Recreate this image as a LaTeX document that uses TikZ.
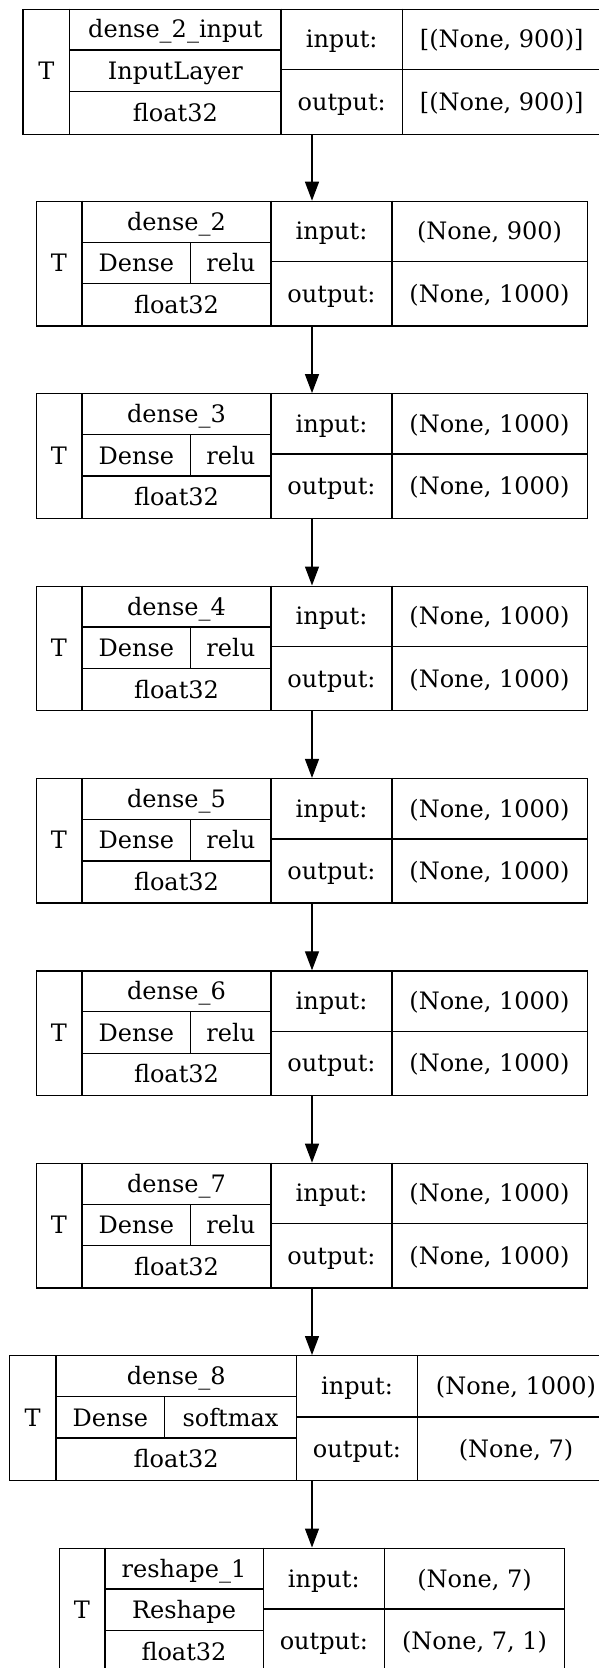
\documentclass[tikz,border=0pt]{standalone}
\usepackage{fontspec}
\setmainfont{DejaVu Serif}
\usetikzlibrary{arrows.meta}

\begin{document}
\begin{tikzpicture}[x=1pt,y=-1pt,
  box/.style={draw, line width=1.3pt, inner sep=0, minimum height=124.5pt, anchor=north},
  cell/.style={inner sep=0, text height=17.5pt, text depth=0pt, font=\fontsize{24}{28}\selectfont},
  sep/.style={line width=1.3pt},
  link/.style={-{Triangle[length=19pt,width=14pt]}, line width=1.3pt}]
\useasboundingbox (0,0) rectangle (598,1668);

% input layer
\node[box, minimum width=578pt, minimum height=125pt] (d2in) at (312,8.5) {};
\draw[sep] (69.8,8.5) -- (69.8,133.5);
\draw[sep] (281,8.5) -- (281,133.5);
\draw[sep] (402.4,8.5) -- (402.4,133.5);
\draw[sep] (69.8,50) -- (281,50);
\draw[sep] (69.8,91.5) -- (281,91.5);
\draw[sep] (281,69.5) -- (601,69.5);
\node[cell] (d2in-t) at (46.4,71) {T};
\node[cell] (d2in-name) at (175.4,29.2) {dense\_2\_input};
\node[cell] (d2in-type) at (175.4,70.8) {InputLayer};
\node[cell] (d2in-dt) at (175.4,112.5) {float32};
\node[cell] (d2in-i) at (341.7,39) {input:};
\node[cell] (d2in-o) at (341.7,101.5) {output:};
\node[cell] (d2in-is) at (501.7,39) {[(None, 900)]};
\node[cell] (d2in-os) at (501.7,101.5) {[(None, 900)]};

% dense layers
\foreach \i/\inshape in {2/900,3/1000,4/1000,5/1000,6/1000,7/1000} {
  \pgfmathsetmacro\t{200.7+192.4*(\i-2)}
  \node[box, minimum width=551pt] (d\i) at (312,\t) {};
  \draw[sep] (82,\t) -- (82,\t+124.5);
  \draw[sep] (271,\t) -- (271,\t+124.5);
  \draw[sep] (392,\t) -- (392,\t+124.5);
  \draw[sep] (82,\t+41.5) -- (271,\t+41.5);
  \draw[sep] (82,\t+83) -- (271,\t+83);
  \draw[sep] (190.7,\t+41.5) -- (190.7,\t+83);
  \draw[sep] (271,\t+61) -- (587,\t+61);
  \node[cell] (d\i-t) at (59,\t+62.25) {T};
  \node[cell] (d\i-name) at (176.5,\t+20.75) {dense\_\i};
  \node[cell] (d\i-type) at (136.4,\t+62.25) {Dense};
  \node[cell] (d\i-act) at (230.9,\t+62.25) {relu};
  \node[cell] (d\i-dt) at (176.5,\t+103.75) {float32};
  \node[cell] (d\i-i) at (331.5,\t+30.5) {input:};
  \node[cell] (d\i-o) at (331.5,\t+92.75) {output:};
  \node[cell] (d\i-is) at (489.5,\t+30.5) {(None, \inshape)};
  \node[cell] (d\i-os) at (489.5,\t+92.75) {(None, 1000)};
}

% dense_8
\node[box, minimum width=605pt] (d8) at (312,1355) {};
\draw[sep] (56,1355) -- (56,1479.5);
\draw[sep] (296.3,1355) -- (296.3,1479.5);
\draw[sep] (417.6,1355) -- (417.6,1479.5);
\draw[sep] (56,1396.5) -- (296.3,1396.5);
\draw[sep] (56,1438) -- (296.3,1438);
\draw[sep] (164.8,1396.5) -- (164.8,1438);
\draw[sep] (296.3,1417) -- (614.5,1417);
\node[cell] (d8-t) at (32.75,1417.25) {T};
\node[cell] (d8-name) at (176.2,1375.75) {dense\_8};
\node[cell] (d8-type) at (110.4,1417.25) {Dense};
\node[cell] (d8-act) at (230.5,1417.25) {softmax};
\node[cell] (d8-dt) at (176.2,1458.75) {float32};
\node[cell] (d8-i) at (357,1386) {input:};
\node[cell] (d8-o) at (357,1448.25) {output:};
\node[cell] (d8-is) at (516,1386) {(None, 1000)};
\node[cell] (d8-os) at (516,1448.25) {(None, 7)};

% reshape_1
\node[box, minimum width=505.5pt] (rs1) at (312,1547.5) {};
\draw[sep] (104.9,1547.5) -- (104.9,1672);
\draw[sep] (263.2,1547.5) -- (263.2,1672);
\draw[sep] (384.4,1547.5) -- (384.4,1672);
\draw[sep] (104.9,1589) -- (263.2,1589);
\draw[sep] (104.9,1630.5) -- (263.2,1630.5);
\draw[sep] (263.2,1609) -- (564.5,1609);
\node[cell] (rs1-t) at (82,1609.75) {T};
\node[cell] (rs1-name) at (184,1568.25) {reshape\_1};
\node[cell] (rs1-type) at (184,1609.75) {Reshape};
\node[cell] (rs1-dt) at (184,1651.25) {float32};
\node[cell] (rs1-i) at (323.8,1578.25) {input:};
\node[cell] (rs1-o) at (323.8,1640.5) {output:};
\node[cell] (rs1-is) at (474.5,1578.25) {(None, 7)};
\node[cell] (rs1-os) at (474.5,1640.5) {(None, 7, 1)};

% links
\draw[link] (d2in.south) -- (d2.north);
\foreach \i [evaluate=\i as \j using int(\i+1)] in {2,...,7}
  \draw[link] (d\i.south) -- (d\j.north);
\draw[link] (d8.south) -- (rs1.north);
\end{tikzpicture}
\end{document}
